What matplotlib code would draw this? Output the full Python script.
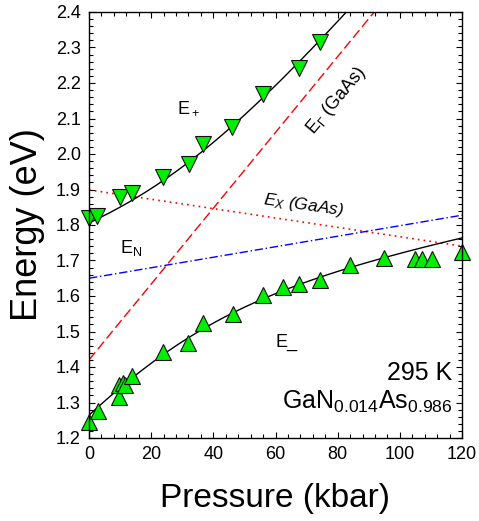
import numpy as np
import matplotlib
matplotlib.use('Agg')
import matplotlib.pyplot as plt
from matplotlib.ticker import MultipleLocator, FormatStrFormatter

plt.rcParams['font.family'] = ['Liberation Sans', 'DejaVu Sans']
plt.rcParams['mathtext.fontset'] = 'custom'
plt.rcParams['mathtext.rm'] = 'Liberation Sans'
plt.rcParams['mathtext.it'] = 'Liberation Sans:italic'
plt.rcParams['mathtext.bf'] = 'Liberation Sans:bold'

# measured peaks: upper branch E+ (down triangles)
p_plus = [0, 2.5, 10, 13.7, 23.9, 32.3, 36.8, 46.1, 56.1, 67.6, 74.3]
e_plus = [1.820, 1.825, 1.879, 1.890, 1.936, 1.972, 2.028, 2.075, 2.168, 2.243, 2.315]

# lower branch E- (up triangles)
p_minus = [0, 3, 9.7, 9.8, 10.8, 11.6, 13.7, 23.9, 32.0, 36.8, 46.2, 56.1,
           62.3, 67.6, 74.3, 84.1, 94.8, 104.9, 107.1, 110.3, 119.9]
e_minus = [1.246, 1.277, 1.315, 1.350, 1.356, 1.350, 1.375, 1.443, 1.468, 1.523, 1.548, 1.603,
           1.624, 1.634, 1.645, 1.687, 1.708, 1.704, 1.704, 1.704, 1.723]

# linear band edges: value at 0 kbar and pressure coefficient (eV/kbar)
eg_gamma = (1.420, 0.01068)
eg_x = (1.899, -0.00132)
e_n = (1.650, 0.00148)
coupling = 0.245  # C_NM * sqrt(x), eV

p = np.linspace(0, 120, 400)
Eg = eg_gamma[0] + eg_gamma[1] * p
Ex = eg_x[0] + eg_x[1] * p
En = e_n[0] + e_n[1] * p
root = np.sqrt((Eg - En) ** 2 + 4 * coupling ** 2)
Eup = 0.5 * (Eg + En + root)
Elo = 0.5 * (Eg + En - root)

fig = plt.figure(figsize=(4.79, 5.21), dpi=100)
ax = fig.add_axes([89 / 479, 1 - 438 / 521, 373 / 479, 426 / 521])

ax.plot(p, Eg, color='red', lw=1, dashes=(7, 3))
ax.plot(p, Ex, color='red', lw=1.2, dashes=(1, 2.5))
ax.plot(p, En, color='blue', lw=1, dashes=(6, 2, 1, 2))
ax.plot(p, Eup, color='black', lw=1)
ax.plot(p, Elo, color='black', lw=1)

ax.plot(p_plus, e_plus, 'v', ms=12, mfc='#00ee00', mec='#111111', mew=0.8, clip_on=False)
ax.plot(p_minus, e_minus, '^', ms=12, mfc='#00ee00', mec='#111111', mew=0.8, clip_on=False)

ax.set_xlim(0, 120)
ax.set_ylim(1.2, 2.4)
ax.xaxis.set_major_locator(MultipleLocator(20))
ax.xaxis.set_minor_locator(MultipleLocator(4))
ax.yaxis.set_major_locator(MultipleLocator(0.1))
ax.yaxis.set_minor_locator(MultipleLocator(0.02))
ax.yaxis.set_major_formatter(FormatStrFormatter('%.1f'))
ax.tick_params(which='both', direction='in', top=True, right=True, labelsize=13, width=0.8)
ax.tick_params(which='major', length=4.5, pad=6)
ax.tick_params(which='minor', length=3)
for s in ax.spines.values():
    s.set_linewidth(1)

ax.set_xlabel('Pressure (kbar)', fontsize=24, labelpad=14)
ax.set_ylabel('Energy (eV)', fontsize=26, labelpad=8)

ax.text(28.3, 2.13, r'E$_+$', fontsize=13, va='center')
ax.text(10, 1.735, r'E$_\mathrm{N}$', fontsize=13, va='center')
ax.text(60, 1.468, 'E_', fontsize=13, va='center')
ax.text(79.5, 2.15, r'E$_\Gamma$ (GaAs)', fontsize=13, rotation=50,
        ha='center', va='center', rotation_mode='anchor')
ax.text(69, 1.856, r'E$_X$ (GaAs)', fontsize=12.5, style='italic', rotation=-8,
        ha='center', va='center', rotation_mode='anchor')
ax.text(117, 1.383, '295 K', fontsize=18, ha='right', va='center')
ax.text(117, 1.301, r'GaN$_{0.014}$As$_{0.986}$', fontsize=18, ha='right', va='center')

fig.savefig('out.png', dpi=100)
